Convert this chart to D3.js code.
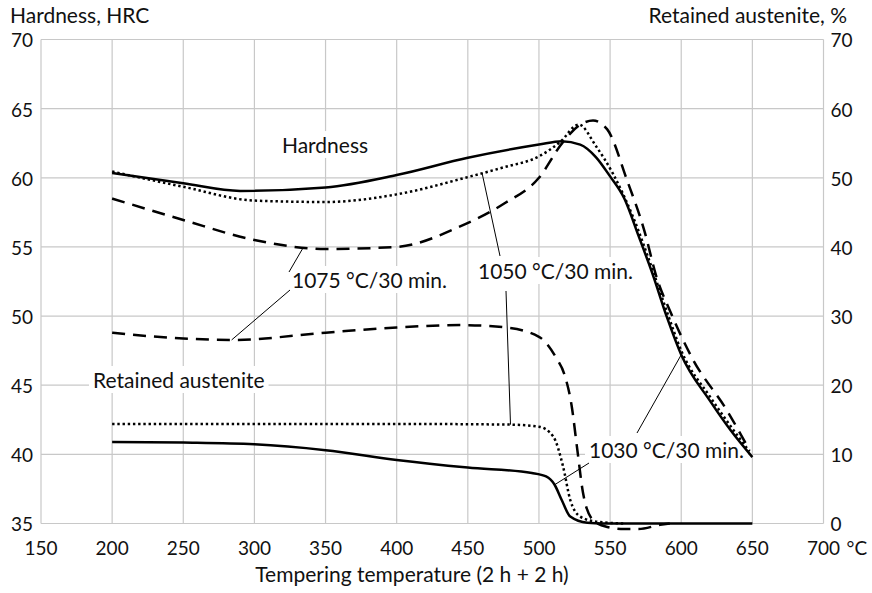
<!DOCTYPE html>
<html><head><meta charset="utf-8">
<script src="https://cdn.jsdelivr.net/npm/d3@7"></script>
<style>
body{margin:0;background:#fff;}
svg{display:block;font-family:Lato,"Open Sans",sans-serif;}
</style></head><body>
<svg id="c" width="872" height="593"></svg>
<script>
// ---- data (temperature °C, value) ----
const xTicks = [150,200,250,300,350,400,450,500,550,600,650,700];
const leftTicks = [35,40,45,50,55,60,65,70];
const rightTicks = [0,10,20,30,40,50,60,70];

const hard1030 = [[200,60.35],[250,59.6],[290,59.05],[350,59.3],[400,60.2],[450,61.45],[500,62.4],[516,62.65],[529,62.4],[540,61.5],[550,60.1],[560,58.5],[570,55.8],[580,53.0],[590,49.9],[600,47.2],[620,43.9],[635,41.7],[650,39.8]];
const hard1050 = [[200,60.45],[250,59.35],[300,58.35],[350,58.25],[400,58.8],[450,60.05],[475,60.75],[500,61.55],[515,62.6],[528,63.85],[540,62.3],[552,60.3],[566,57.2],[580,53.3],[590,50.3],[600,47.5],[620,44.2],[635,42.0],[648,40.2]];
const hard1075 = [[200,58.5],[250,56.95],[300,55.5],[350,54.85],[400,55.0],[445,56.5],[475,58.1],[500,60.0],[517,62.6],[530,63.9],[538,64.15],[548,63.5],[562,59.8],[574,56.2],[583,52.7],[592,50.4],[608,46.9],[632,43.2],[648,40.3]];

const ra1030 = [[200,11.8],[250,11.7],[300,11.45],[350,10.6],[400,9.2],[450,8.1],[495,7.3],[505,6.8],[511,5.6],[516,3.4],[522,1.0],[534,0.1],[545,0],[650,0]];
const ra1050 = [[200,14.4],[300,14.4],[400,14.4],[480,14.3],[500,14.0],[510,12.6],[517,8.2],[522,3.4],[529,1.0],[541,0.25],[560,0]];
const ra1075 = [[200,27.6],[250,26.75],[285,26.55],[350,27.6],[400,28.35],[445,28.7],[475,28.4],[500,27.0],[512,24.0],[518,21.5],[523,17],[527,10.6],[531,4.4],[538,0.5],[548,-0.5],[560,-0.8],[570,-0.8],[585,-0.2],[592,0]];

// ---- layout ----
const L=41, R=823.5, T=39.5, B=523.5;
const FS=19, FT=21;
const x = d3.scaleLinear().domain([150,700]).range([L,R]);
const yL = d3.scaleLinear().domain([35,70]).range([B,T]);
const yR = d3.scaleLinear().domain([0,70]).range([B,T]);
const svg = d3.select("#c");

// grid
const g = svg.append("g");
g.selectAll(".vx").data(xTicks).join("line")
  .attr("x1",d=>x(d)).attr("x2",d=>x(d)).attr("y1",T).attr("y2",B)
  .attr("stroke","#c8c8c8").attr("stroke-width",1.2);
g.selectAll(".hy").data(leftTicks).join("line")
  .attr("x1",L).attr("x2",R).attr("y1",d=>yL(d)).attr("y2",d=>yL(d))
  .attr("stroke","#c8c8c8").attr("stroke-width",1.2);

// axes labels
const ax = svg.append("g").attr("font-size",FS).attr("fill","#111");
ax.selectAll(".lt").data(leftTicks).join("text")
  .attr("x",L-8).attr("y",d=>yL(d)).attr("dy","0.42em").attr("text-anchor","end").text(d=>d);
ax.selectAll(".rt").data(rightTicks).join("text")
  .attr("x",R+7).attr("y",d=>yR(d)).attr("dy","0.42em").attr("text-anchor","start").text(d=>d);
ax.selectAll(".xt").data(xTicks).join("text")
  .attr("x",d=>x(d)).attr("y",B+31).attr("text-anchor","middle").text(d=>d);
ax.append("text").attr("x",x(700)+23).attr("y",B+31).text("°C");
ax.append("text").attr("x",412).attr("y",582).attr("font-size",FT).attr("text-anchor","middle").text("Tempering temperature (2 h + 2 h)");
ax.append("text").attr("x",10).attr("y",23).attr("font-size",FT).text("Hardness, HRC");
ax.append("text").attr("x",847).attr("y",23).attr("font-size",FT).attr("text-anchor","end").text("Retained austenite, %");

// labels with white background
const labG = svg.append("g");
function label(txt, x0, yb, anchor){
  const grp = labG.append("g");
  const rect = grp.append("rect").attr("fill","#fff");
  const t = grp.append("text").attr("x",x0).attr("y",yb).attr("font-size",FT)
    .attr("text-anchor",anchor||"start").attr("fill","#111").text(txt);
  const bb = t.node().getBBox();
  rect.attr("x",bb.x-4).attr("y",bb.y-1).attr("width",bb.width+8).attr("height",bb.height+2);
  return t;
}

// curves
const lineL = d3.line().x(d=>x(d[0])).y(d=>yL(d[1])).curve(d3.curveMonotoneX);
const lineR = d3.line().x(d=>x(d[0])).y(d=>yR(d[1])).curve(d3.curveMonotoneX);
const styles = {solid:null, dotted:"2.4,2.8", dashed:"13,8"};
function draw(data, gen, style){
  svg.append("path").datum(data).attr("d",gen).attr("fill","none").attr("stroke","#000")
    .attr("stroke-width",2.5).attr("stroke-dasharray",styles[style]);
}

label("Hardness", 325, 153, "middle");
label("Retained austenite", 93, 388, "start");
label("1075 °C/30 min.", 292, 288, "start");
label("1050 °C/30 min.", 478, 279, "start");
label("1030 °C/30 min.", 589, 458, "start");

draw(hard1075, lineL, "dashed");
draw(hard1050, lineL, "dotted");
draw(hard1030, lineL, "solid");
draw(ra1075, lineR, "dashed");
draw(ra1050, lineR, "dotted");
draw(ra1030, lineR, "solid");

// leader lines
function lead(x1,y1,x2,y2){
  svg.append("line").attr("x1",x1).attr("y1",y1).attr("x2",x2).attr("y2",y2).attr("stroke","#000").attr("stroke-width",1);
}
lead(x(334),yL(54.9),289,272);
lead(290,290,x(284),yR(26.55));
lead(x(460),yL(60.35),500,256);
lead(506,291,x(480),yR(14.3));
lead(x(600),yL(47.2),637,433);
lead(589,463,x(511),yR(5.6));
</script>
</body></html>
